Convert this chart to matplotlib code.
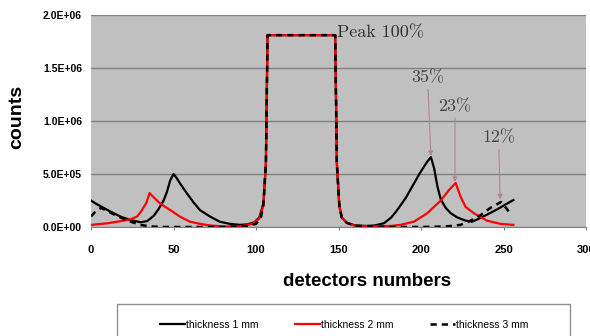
import matplotlib
matplotlib.use("Agg")
from matplotlib import pyplot as plt
from matplotlib.patches import Rectangle

# values (counts in units of 1e5)
x_1mm = [0, 3, 10, 18, 24, 30, 34, 38, 41, 44, 46, 48, 50, 52, 54, 58, 62, 66, 72, 78, 84, 90, 95, 99,
         102, 104.5, 106, 107, 148, 149, 150.5, 152, 155, 160, 167, 172, 177.5, 182, 185.6, 191, 195.7,
         199, 201.8, 204, 206, 208, 210, 212, 215, 218, 222, 227, 231, 236, 241, 246, 251, 256]
y_1mm = [2.5, 2.2, 1.6, 0.97, 0.65, 0.45, 0.55, 1.05, 1.7, 2.5, 3.3, 4.4, 5.0, 4.6, 4.1, 3.2, 2.35, 1.6,
         1.0, 0.5, 0.3, 0.2, 0.25, 0.45, 0.9, 2.2, 6.0, 18.1, 18.1, 6.0, 2.0, 0.9, 0.4, 0.15, 0.1, 0.15,
         0.35, 0.9, 1.6, 2.8, 4.1, 5.0, 5.7, 6.2, 6.6, 5.5, 3.8, 2.6, 1.8, 1.3, 0.9, 0.6, 0.5, 0.85,
         1.25, 1.65, 2.1, 2.55]

x_2mm = [0, 10, 18, 24.5, 28, 30.5, 33.6, 35.5, 38, 42, 48, 54, 60, 66, 72, 80, 90, 98, 102, 104.5,
         106, 107, 148, 149, 150.5, 152, 155, 160, 170, 181.5, 187.6, 195.7, 203.8, 212, 217, 221,
         224, 227, 232, 240, 248, 256]
y_2mm = [0.2, 0.35, 0.55, 0.75, 1.0, 1.5, 2.3, 3.2, 2.8, 2.2, 1.6, 0.97, 0.5, 0.3, 0.15, 0.05, 0.05,
         0.3, 0.8, 2.0, 6.0, 18.1, 18.1, 6.0, 2.0, 0.9, 0.4, 0.1, 0.05, 0.1, 0.2, 0.5, 1.3, 2.5, 3.5,
         4.15, 2.86, 1.9, 1.3, 0.6, 0.3, 0.2]

x_3mm = [0, 3, 6, 10, 15, 20, 25, 30, 36, 45, 60, 80, 95, 100, 103, 104.5, 106, 107, 148, 149, 150.5,
         152, 155, 160, 180, 200, 215, 224, 230, 236, 242, 248.5, 251, 254]
y_3mm = [1.0, 1.5, 1.8, 1.5, 1.1, 0.75, 0.45, 0.2, 0.05, 0.0, 0.0, 0.0, 0.1, 0.3, 0.9, 2.2, 6.0, 18.1,
         18.1, 6.0, 2.0, 0.9, 0.4, 0.1, 0.0, 0.0, 0.05, 0.2, 0.6, 1.1, 1.8, 2.36, 1.9, 1.3]

y_ticks = [0, 5e5, 1e6, 1.5e6, 2e6]
y_ticklabels = ["0.0E+00", "5.0E+05", "1.0E+06", "1.5E+06", "2.0E+06"]
x_ticks = [0, 50, 100, 150, 200, 250, 300]

fig = plt.figure(figsize=(5.9, 3.36), dpi=100)
ax = fig.add_axes([91 / 590, 1 - 227 / 336, 495 / 590, 212 / 336])
ax.set_facecolor("#c0c0c0")

ax.plot(x_1mm, [v * 1e5 for v in y_1mm], color="black", lw=1.6, label="thickness 1 mm", zorder=3)
ax.plot(x_2mm, [v * 1e5 for v in y_2mm], color="red", lw=1.6, label="thickness 2 mm", zorder=4)
ax.plot(x_3mm, [v * 1e5 for v in y_3mm], color="black", lw=1.8, ls=(0, (2.5, 2)),
        label="thickness 3 mm", zorder=5)

ax.set_xlim(0, 300)
ax.set_ylim(0, 2e6)
ax.set_yticks(y_ticks)
ax.set_yticklabels(y_ticklabels)
ax.set_xticks(x_ticks)
ax.set_xticklabels([str(t) for t in x_ticks])
for lab in ax.get_yticklabels():
    lab.set_fontfamily("Liberation Sans")
    lab.set_fontweight("bold")
    lab.set_fontsize(7.5)
for lab in ax.get_xticklabels():
    lab.set_fontfamily("Liberation Sans")
    lab.set_fontweight("bold")
    lab.set_fontsize(8)
ax.tick_params(axis="y", length=0, pad=6.5)
ax.tick_params(axis="x", length=2, color="#808080", pad=11)

ax.grid(axis="y", color="#808080", lw=1)
ax.set_axisbelow(True)
for s in ["left", "right", "top"]:
    ax.spines[s].set_visible(False)
ax.spines["bottom"].set_color("#808080")

# annotations
serif = ["cmr10", "Liberation Serif"]
ax.text(149, 1.83e6, "Peak 100%", fontsize=13, family=serif, color="#303030", ha="left", va="center")
arrow = dict(arrowstyle="-|>", color="#b08686", lw=0.8, mutation_scale=7, shrinkA=1, shrinkB=0)
ax.annotate("35%", xy=(206, 6.7e5), xytext=(204, 1.41e6), fontsize=13, family=serif,
            color="#454545", ha="center", va="center", arrowprops=arrow)
ax.annotate("23%", xy=(220.6, 4.25e5), xytext=(220.6, 1.14e6), fontsize=13, family=serif,
            color="#454545", ha="center", va="center", arrowprops=arrow)
ax.annotate("12%", xy=(248, 2.6e5), xytext=(247, 8.4e5), fontsize=13, family=serif,
            color="#454545", ha="center", va="center", arrowprops=arrow)

fig.text(17 / 590, 1 - 117 / 336, "counts", rotation=90, ha="center", va="center",
         fontsize=14, fontweight="bold", family="Liberation Sans")
fig.text(367 / 590, 1 - 282 / 336, "detectors numbers", ha="center", va="center",
         fontsize=13.5, fontweight="bold", family="Liberation Sans")

# legend box runs off the bottom of the picture
box = Rectangle((117 / 590, -0.1), 453 / 590, 0.1 + 32 / 336, transform=fig.transFigure,
                facecolor="white", edgecolor="#909090", lw=1)
fig.patches.append(box)
fig.legend(loc="center", bbox_to_anchor=(344 / 590, 1 - 325 / 336), ncol=3, frameon=False,
           prop={"family": "Liberation Sans", "size": 7.5}, handlelength=2.4, handletextpad=0.1,
           columnspacing=3.5)

plt.savefig("out.png", dpi=100)
